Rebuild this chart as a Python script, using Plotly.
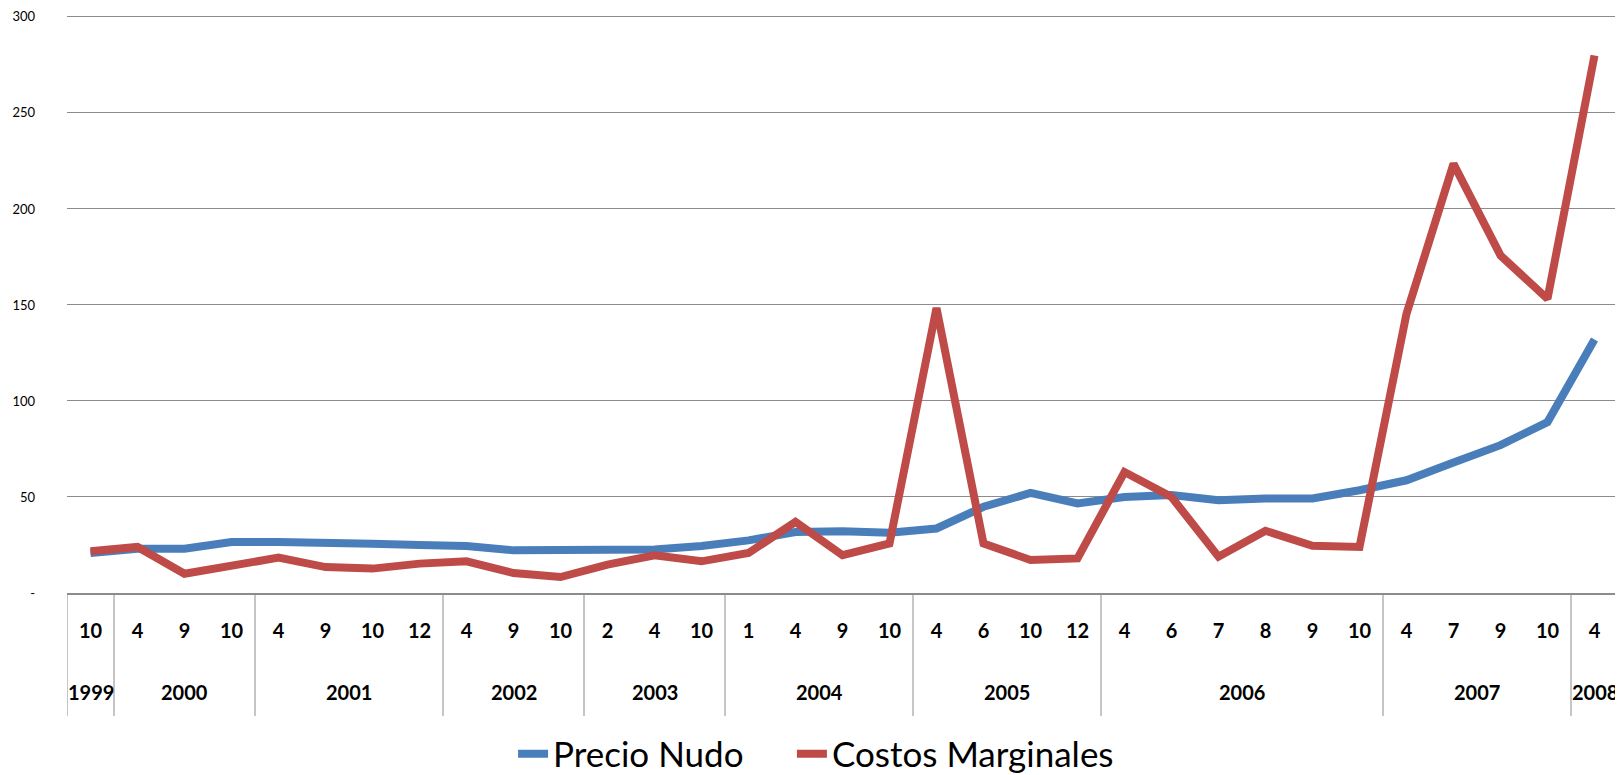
import plotly.graph_objects as go

# ---- data ----
point_years = ["1999",
               "2000", "2000", "2000",
               "2001", "2001", "2001", "2001",
               "2002", "2002", "2002",
               "2003", "2003", "2003",
               "2004", "2004", "2004", "2004",
               "2005", "2005", "2005", "2005",
               "2006", "2006", "2006", "2006", "2006", "2006",
               "2007", "2007", "2007", "2007",
               "2008"]
months = ["10", "4", "9", "10", "4", "9", "10", "12", "4", "9", "10", "2", "4", "10",
          "1", "4", "9", "10", "4", "6", "10", "12", "4", "6", "7", "8", "9", "10",
          "4", "7", "9", "10", "4"]
precio_nudo = [20.8, 23.0, 23.0, 26.6, 26.6, 25.7, 25.7, 25.0, 24.5, 22.2, 22.7,
               22.7, 22.7, 24.5, 27.4, 31.8, 32.2, 31.4, 33.6, 44.9, 52.1, 46.6,
               50.0, 51.0, 48.3, 49.2, 49.2, 53.5, 58.7, 68.0, 77.0, 89.0, 132.0]
costos_marginales = [21.7, 24.0, 10.0, 13.9, 18.4, 13.5, 12.7, 15.3, 16.5, 10.4, 8.3,
                     14.8, 19.6, 16.5, 20.8, 37.0, 19.7, 25.8, 148.4, 25.8, 17.2, 18.0,
                     63.0, 50.0, 18.9, 32.4, 24.6, 24.0, 145.4, 223.5, 175.8, 153.2, 279.9]
y_ticks = [0, 50, 100, 150, 200, 250, 300]
y_tick_labels = ["-", "50", "100", "150", "200", "250", "300"]

# ---- styling ----
BLUE = "#4A7EBB"
RED = "#BE4B48"
GRID = "#8C8C8C"
FONT = "Lato"

xs = list(range(len(months)))

fig = go.Figure()
fig.add_trace(go.Scatter(x=xs, y=precio_nudo, mode="lines", name="Precio Nudo",
                         line=dict(color=BLUE, width=8), legend="legend"))
fig.add_trace(go.Scatter(x=xs, y=costos_marginales, mode="lines", name="Costos Marginales",
                         line=dict(color=RED, width=8), legend="legend2"))

# year groups (computed from the data)
groups = []
for i, yr in enumerate(point_years):
    if groups and groups[-1][0] == yr:
        groups[-1][2] = i
    else:
        groups.append([yr, i, i])

shapes = []
annotations = []
LABEL_Y = -0.1713
DIV_BOTTOM = -0.2128
for yr, a, b in groups:
    shapes.append(dict(type="line", xref="x", yref="paper", x0=a - 0.5, x1=a - 0.5,
                       y0=0, y1=DIV_BOTTOM, line=dict(color=GRID, width=1)))
    annotations.append(dict(x=(a + b) / 2, y=LABEL_Y, xref="x", yref="paper",
                            text=yr, showarrow=False, yanchor="middle",
                            font=dict(family=FONT, size=20, color="black", weight="bold")))
last = groups[-1][2]
shapes.append(dict(type="line", xref="x", yref="paper", x0=last + 0.5, x1=last + 0.5,
                   y0=0, y1=DIV_BOTTOM, line=dict(color=GRID, width=1)))

legend_font = dict(family=FONT, size=35, color="black")
fig.update_layout(
    width=1615, height=767,
    margin=dict(l=59, r=5, t=7, b=182, autoexpand=False),
    plot_bgcolor="white", paper_bgcolor="white",
    shapes=shapes, annotations=annotations,
    showlegend=True,
    legend=dict(orientation="h", x=0.2876, xanchor="left", y=-0.2785, yanchor="middle",
                font=legend_font),
    legend2=dict(orientation="h", x=0.4674, xanchor="left", y=-0.2785, yanchor="middle",
                 font=legend_font),
    font=dict(family=FONT, color="black"),
)
fig.update_xaxes(range=[-0.5, len(months) - 0.5], tickmode="array", tickvals=xs,
                 ticktext=months, showgrid=False, zeroline=False,
                 showline=True, linecolor=GRID, linewidth=2,
                 ticks="", ticklabelstandoff=19,
                 tickfont=dict(family=FONT, size=20, color="black", weight="bold"))
fig.update_yaxes(range=[0, 301], tickmode="array", tickvals=y_ticks, ticktext=y_tick_labels,
                 showgrid=True, gridcolor=GRID, gridwidth=1, zeroline=False,
                 ticks="", ticklabelstandoff=31, ticklabeloverflow="allow",
                 tickfont=dict(family=FONT, size=13, color="black"))

fig.write_html("out.html")
